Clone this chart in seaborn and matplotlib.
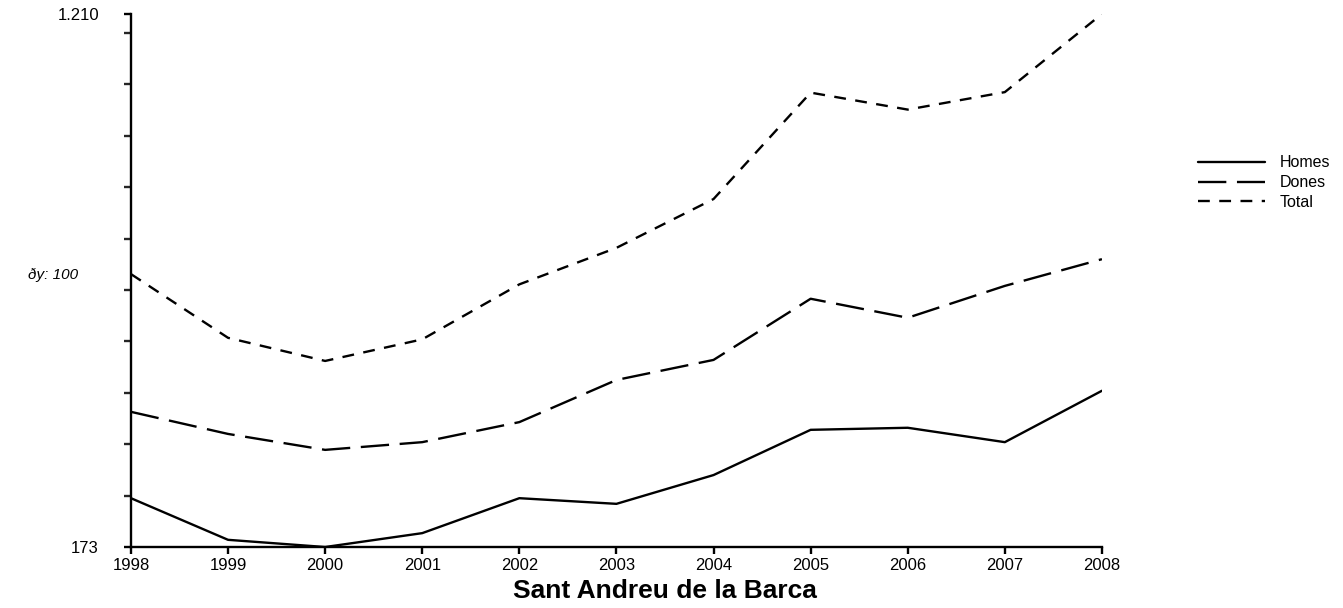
import matplotlib
matplotlib.use("Agg")
import matplotlib.pyplot as plt
from matplotlib.ticker import FixedLocator
import seaborn as sns
import pandas as pd

# values
years = [1998, 1999, 2000, 2001, 2002, 2003, 2004, 2005, 2006, 2007, 2008]
homes = [268, 187, 173, 200, 268, 257, 313, 401, 405, 377, 477]
dones = [436, 393, 362, 377, 416, 498, 537, 656, 619, 681, 733]
total = [704, 580, 535, 577, 684, 755, 850, 1057, 1024, 1058, 1210]
series = ["Homes", "Dones", "Total"]
y_min, y_max, y_step = 173, 1210, 100

df = pd.DataFrame({
    "Any": years * 3,
    "Valor": homes + dones + total,
    "Serie": [s for s in series for _ in years],
})

sns.set_style("white")
plt.rcParams["font.family"] = ["Liberation Sans", "DejaVu Sans"]

fig = plt.figure(figsize=(13.43, 6.08), dpi=100)
ax = fig.add_axes([0.0975, 0.1003, 0.7230, 0.8767])

sns.lineplot(data=df, x="Any", y="Valor", style="Serie", style_order=series,
             color="black", linewidth=1.7,
             dashes={"Homes": "", "Dones": (12, 4.5), "Total": (5, 4)}, ax=ax)

ax.set_xlim(years[0], years[-1])
ax.set_ylim(y_min, y_max)
ax.set_xticks(years)
ax.set_xticklabels([str(y) for y in years], fontsize=12)
ax.set_yticks([y_min, y_max])
ax.set_yticklabels([str(y_min), f"{y_max:,}".replace(",", ".")], fontsize=12)
ax.yaxis.set_minor_locator(FixedLocator(list(range(y_min + y_step, y_max, y_step))))

for side in ["top", "right"]:
    ax.spines[side].set_visible(False)
for side in ["left", "bottom"]:
    ax.spines[side].set_linewidth(1.7)
    ax.spines[side].set_color("black")

ax.tick_params(axis="y", which="major", left=True, length=5, width=1.7, pad=18)
ax.tick_params(axis="y", which="minor", left=True, length=5, width=1.7)
ax.tick_params(axis="x", which="major", bottom=True, length=5, width=1.7, pad=3)
ax.tick_params(colors="black", labelcolor="black")

ax.set_ylabel("")
ax.set_xlabel("")
fig.text(665 / 1343, 1 - 591 / 608, "Sant Andreu de la Barca", fontsize=19,
         fontweight="bold", ha="center", va="center", color="black")
fig.text(0.021, 1 - 275 / 608, f"ðy: {y_step}", fontsize=11, style="italic",
         va="center", color="black")

ax.legend(loc="upper left", bbox_to_anchor=(0.8815, 0.768), bbox_transform=fig.transFigure,
          frameon=False, fontsize=11.5, handlelength=4.2, labelspacing=0.3,
          handletextpad=0.9, title=None, labelcolor="black")

fig.savefig("out.png", dpi=100)
